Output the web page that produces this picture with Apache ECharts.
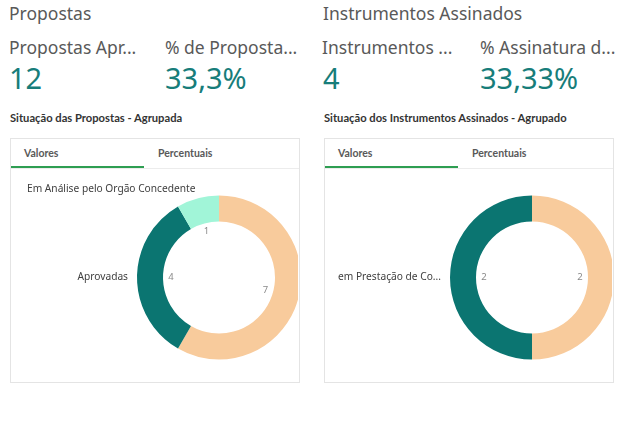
<!DOCTYPE html>
<html><head><meta charset="utf-8">
<script src="https://cdn.jsdelivr.net/npm/echarts@6/dist/echarts.min.js"></script>
<style>
html,body{margin:0;padding:0;width:640px;height:425px;background:#fff;overflow:hidden;font-family:'Noto Sans',sans-serif}
.t{position:absolute;white-space:nowrap;line-height:1}
.h1{font-size:17.5px;color:#595959}
.kv{font-size:29px;color:#177d7a}
.st{font-family:Lato,'Noto Sans',sans-serif;font-weight:bold;font-size:11.2px;color:#333}
.tab{font-family:Lato,'Noto Sans',sans-serif;font-weight:bold;font-size:10.5px;color:#595959}
.panel{position:absolute;top:138px;width:290px;height:245px;border:1px solid #e4e4e4;box-sizing:border-box}
.tabline{position:absolute;top:168px;width:288px;height:1px;background:#ececec}
.tabsel{position:absolute;top:166px;width:133px;height:2px;background:#2e9e52}
.chart{position:absolute;top:169px;width:287px;height:212px}
</style></head>
<body>
<div id="root"></div>
<script>
// ---- data ----
const sectionTitles = ["Propostas", "Instrumentos Assinados"];
const kpiLabels = ["Propostas Apr...", "% de Proposta...", "Instrumentos ...", "% Assinatura d..."];
const kpiValues = ["12", "33,3%", "4", "33,33%"];
const chartTitles = ["Situação das Propostas - Agrupada", "Situação dos Instrumentos Assinados - Agrupado"];
const tabLabels = ["Valores", "Percentuais"];
const propCategories = ["Outras", "Aprovadas", "Em Análise pelo Orgão Concedente"];
const propValues = [7, 4, 1];
const propColors = ["#f8cb9c", "#0b7571", "#a1f5d8"];
const propShowName = [false, true, true];
const instCategories = ["Outras", "em Prestação de Contas"];
const instValues = [2, 2];
const instColors = ["#f8cb9c", "#0b7571"];
const instShowName = [false, true];

// ---- layout ----
const root = document.getElementById('root');
function add(cls, text, left, top, extra) {
  const d = document.createElement('div');
  d.className = cls;
  if (text != null) d.textContent = text;
  d.style.left = left + 'px';
  if (top != null) d.style.top = top + 'px';
  if (extra) Object.assign(d.style, extra);
  root.appendChild(d);
  return d;
}
const colX = [10, 324];
const kpiX = [[9, 165], [322, 480]];
const kpiNumX = [[9, 165], [323, 480]];
for (let p = 0; p < 2; p++) {
  add('t h1', sectionTitles[p], colX[p] - 1, 5);
  add('t h1', kpiLabels[p * 2], kpiX[p][0], 39);
  add('t h1', kpiLabels[p * 2 + 1], kpiX[p][1], 39);
  add('t kv', kpiValues[p * 2], kpiNumX[p][0], 63);
  add('t kv', kpiValues[p * 2 + 1], kpiNumX[p][1], 63);
  add('t st', chartTitles[p], colX[p], 111.5);
  add('panel', null, colX[p]);
  add('tabline', null, colX[p] + 1);
  add('tabsel', null, colX[p] + 1);
  add('t tab', tabLabels[0], colX[p] + 14, 148);
  add('t tab', tabLabels[1], colX[p] + 148, 148);
}

function donut(left, cats, vals, colors, showName, center, extraLabel) {
  const el = add('chart', null, left);
  const chart = echarts.init(el, null, {renderer: 'canvas'});
  const ring = cats.map((c, i) => {
    const item = {name: c, value: vals[i], itemStyle: {color: colors[i]}, label: {show: showName[i]}};
    if (showName[i] && extraLabel) Object.assign(item.label, extraLabel);
    return item;
  });
  const inner = cats.map((c, i) => ({name: c, value: vals[i]}));
  chart.setOption({
    animation: false,
    series: [
      {
        type: 'pie', radius: [56, 82], center: center, startAngle: 90, clockwise: true,
        avoidLabelOverlap: false, silent: true,
        itemStyle: {borderWidth: 0},
        label: {show: true, position: 'outside', color: '#404040', fontSize: 10.2,
                fontFamily: 'Noto Sans', distanceToLabelLine: 0},
        labelLine: {show: false, length: 9, length2: 0},
        emphasis: {disabled: true},
        data: ring
      },
      {
        type: 'pie', radius: [0, 90], center: center, startAngle: 90, clockwise: true,
        silent: true, avoidLabelOverlap: false,
        itemStyle: {color: 'rgba(0,0,0,0)', borderWidth: 0},
        label: {show: true, position: 'inside', formatter: '{c}', color: '#8a8a8a',
                fontSize: 9.5, fontFamily: 'Noto Sans'},
        labelLine: {show: false},
        emphasis: {disabled: true},
        data: inner
      }
    ]
  });
}
donut(11, propCategories, propValues, propColors, propShowName, [208, 108.5]);
donut(325, instCategories, instValues, instColors, instShowName, [207, 108.5],
      {width: 112, overflow: 'truncate', ellipsis: '...'});
</script>
</body></html>
